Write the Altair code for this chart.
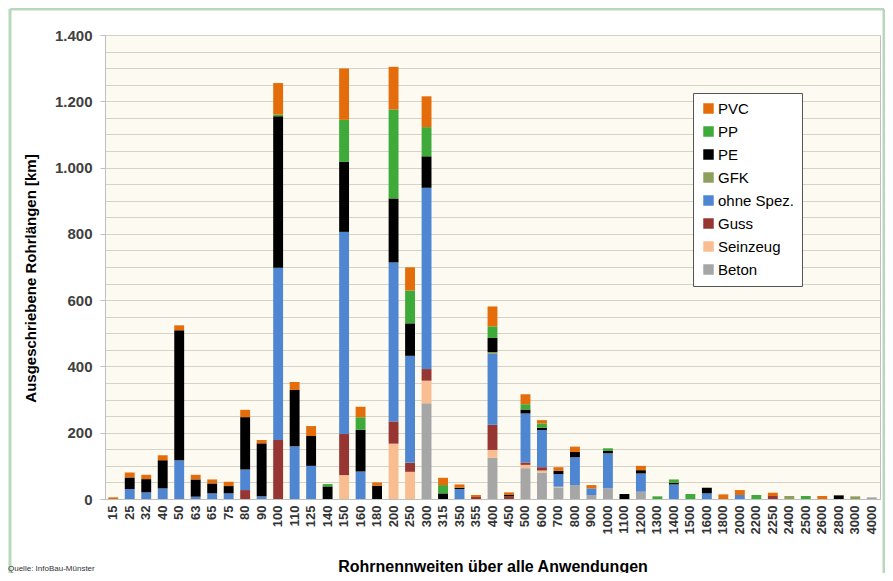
import altair as alt
import pandas as pd

# Nominal pipe diameters (DN)
categories = ["15", "25", "32", "40", "50", "63", "65", "75", "80", "90",
              "100", "110", "125", "140", "150", "160", "180", "200", "250", "300",
              "315", "350", "355", "400", "450", "500", "600", "700", "800", "900",
              "1000", "1100", "1200", "1300", "1400", "1500", "1600", "1800", "2000", "2200",
              "2250", "2400", "2500", "2600", "2800", "3000", "4000"]

# km per material
beton = [0, 0, 0, 0, 0, 0, 0, 0, 0, 0,
         0, 0, 0, 0, 0, 0, 0, 0, 0, 289,
         0, 0, 0, 124, 0, 93, 80, 35, 42, 12,
         32, 0, 22, 0, 0, 0, 0, 0, 0, 0,
         0, 0, 0, 0, 0, 0, 5]
seinzeug = [0, 0, 0, 0, 0, 0, 0, 0, 0, 0,
            0, 0, 0, 0, 72, 0, 0, 167, 82, 68,
            0, 0, 0, 24, 0, 10, 6, 2, 0, 0,
            0, 0, 0, 0, 0, 0, 0, 0, 0, 0,
            0, 0, 0, 0, 0, 0, 0]
guss = [0, 0, 0, 0, 0, 0, 0, 0, 27, 0,
        178, 0, 0, 0, 124, 0, 0, 67, 27, 35,
        0, 0, 6, 76, 8, 7, 10, 0, 0, 0,
        0, 0, 0, 0, 0, 0, 0, 0, 0, 0,
        9, 0, 0, 0, 0, 0, 0]
ohne_spez = [0, 30, 20, 32, 117, 7, 17, 17, 62, 8,
             520, 159, 100, 0, 610, 83, 0, 480, 323, 547,
             0, 30, 0, 214, 0, 148, 112, 38, 84, 20,
             106, 0, 55, 0, 44, 0, 17, 0, 12, 0,
             0, 0, 0, 0, 0, 0, 0]
gfk = [0, 0, 0, 0, 0, 0, 0, 0, 0, 0,
       0, 0, 0, 0, 0, 0, 0, 0, 0, 0,
       0, 0, 0, 5, 0, 0, 0, 0, 0, 0,
       0, 0, 0, 0, 0, 0, 0, 0, 0, 0,
       0, 9, 0, 0, 0, 8, 0]
pe = [0, 35, 40, 85, 392, 52, 30, 22, 158, 160,
      457, 170, 90, 38, 211, 126, 40, 193, 98, 95,
      17, 4, 0, 43, 4, 12, 7, 10, 16, 0,
      7, 15, 10, 0, 5, 0, 17, 0, 0, 0,
      0, 0, 0, 0, 11, 0, 0]
pp = [0, 0, 0, 0, 0, 0, 0, 0, 0, 0,
      5, 0, 0, 7, 127, 38, 0, 268, 99, 88,
      25, 0, 0, 35, 0, 16, 13, 0, 0, 0,
      8, 0, 0, 8, 10, 15, 0, 0, 0, 12,
      0, 0, 9, 0, 0, 0, 0]
pvc = [5, 15, 13, 15, 15, 14, 12, 13, 22, 10,
       95, 24, 30, 0, 155, 31, 10, 129, 70, 93,
       22, 10, 6, 60, 8, 30, 10, 11, 16, 10,
       0, 0, 13, 0, 0, 0, 0, 14, 15, 0,
       10, 0, 0, 9, 0, 0, 0]

# stacking order: bottom -> top
stack_names = ["Beton", "Seinzeug", "Guss", "ohne Spez.", "GFK", "PE", "PP", "PVC"]
stack_values = [beton, seinzeug, guss, ohne_spez, gfk, pe, pp, pvc]

legend_names = ["PVC", "PP", "PE", "GFK", "ohne Spez.", "Guss", "Seinzeug", "Beton"]
legend_colors = ["#E46C0A", "#3DAA3A", "#000000", "#8E9F5C", "#4F86D2", "#973533", "#F8BE92", "#A6A6A6"]

rows = []
for si, (name, vals) in enumerate(zip(stack_names, stack_values)):
    for cat, v in zip(categories, vals):
        if v > 0:
            rows.append({"DN": cat, "Material": name, "km": v, "stack": si})
df = pd.DataFrame(rows)

FONT = "Liberation Sans"

bars = alt.Chart(df).mark_bar().encode(
    x=alt.X("DN:N", sort=categories,
            scale=alt.Scale(paddingInner=0.4, paddingOuter=0.2),
            axis=alt.Axis(title="Rohrnennweiten über alle Anwendungen",
                          labelAngle=270, ticks=False, labelPadding=6,
                          labelFont=FONT, labelFontSize=13, labelFontWeight="bold",
                          labelColor="#333333", domainColor="#BFBFBF",
                          titleFont=FONT, titleFontSize=16, titleFontWeight="bold",
                          titleColor="#000000", titleY=72, titleBaseline="alphabetic")),
    y=alt.Y("km:Q", stack="zero",
            scale=alt.Scale(domain=[0, 1400], nice=False),
            axis=alt.Axis(title="Ausgeschriebene Rohrlängen [km]",
                          values=list(range(0, 1401, 50)),
                          labelExpr="datum.value % 200 === 0 ? replace(format(datum.value, ',d'), ',', '.') : ''",
                          tickOpacity={"condition": {"test": "datum.value % 200 === 0", "value": 1}, "value": 0},
                          tickSize=5, tickColor="#BFBFBF", labelPadding=8,
                          grid=True, gridColor="#D6D2C6", gridWidth=1,
                          domainColor="#BFBFBF",
                          labelFont=FONT, labelFontSize=15, labelFontWeight="bold",
                          labelColor="#404040",
                          titleFont=FONT, titleFontSize=15, titleFontWeight="bold",
                          titleColor="#000000", titleX=-75, titleY=243,
                          titleBaseline="middle", titleAngle=270)),
    color=alt.Color("Material:N",
                    scale=alt.Scale(domain=legend_names, range=legend_colors),
                    legend=alt.Legend(orient="none", legendX=588, legendY=58, title=None,
                                      symbolType="square", symbolSize=110,
                                      symbolStrokeWidth=0, labelFont=FONT,
                                      labelFontSize=15, labelColor="#000000",
                                      labelOffset=2, rowPadding=7, padding=8,
                                      strokeColor="#555555", fillColor="#FFFFFF")),
    order=alt.Order("stack:Q", sort="ascending"),
)

one = pd.DataFrame({"k": [0]})
frame_color = "#B7D8BC"
frame_left = alt.Chart(one).mark_rule(color=frame_color, strokeWidth=3).encode(
    x=alt.value(-95), y=alt.value(-26), y2=alt.value(540))
frame_top = alt.Chart(one).mark_rule(color=frame_color, strokeWidth=3).encode(
    x=alt.value(-95), x2=alt.value(779), y=alt.value(-26))
frame_right = alt.Chart(one).mark_rule(color=frame_color, strokeWidth=3).encode(
    x=alt.value(779), y=alt.value(-26), y2=alt.value(540))
source = alt.Chart(pd.DataFrame({"t": ["Quelle: InfoBau-Münster"]})).mark_text(
    align="left", baseline="alphabetic", font=FONT, fontSize=8, color="#333333"
).encode(x=alt.value(-97), y=alt.value(536), text="t:N")

chart = alt.layer(bars, frame_left, frame_top, frame_right, source).properties(
    width=775, height=464,
    padding={"left": 97, "top": 27, "right": 5, "bottom": 74},
    autosize=alt.AutoSizeParams(type="none"),
    background="#FFFFFF",
).configure_view(fill="#FDFBF1", stroke="#BFBFBF")

chart.save("out.html", embed_options={"renderer": "svg", "actions": False})
